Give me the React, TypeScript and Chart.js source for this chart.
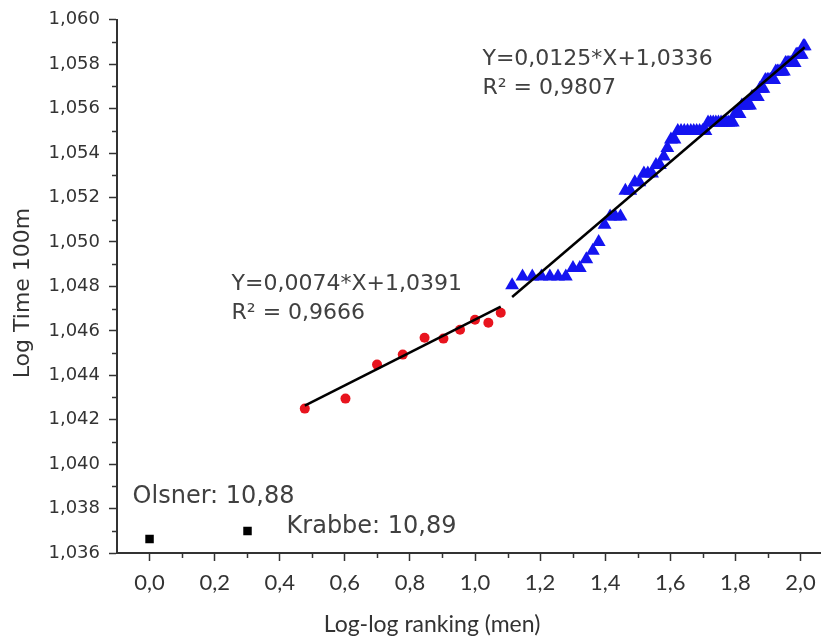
import React, { useEffect, useRef } from 'react';
import { Chart, registerables } from 'chart.js';

Chart.register(...registerables);

// ---- data ----
const TOP_X = [0.0, 0.301];
const TOP_Y = [1.03663, 1.03699];
const TOP_NAMES = ['Olsner: 10,88', 'Krabbe: 10,89'];

const RED_X = [0.477, 0.602, 0.699, 0.778, 0.845, 0.903, 0.954, 1.0, 1.041, 1.079];
const RED_Y = [1.0425, 1.04295, 1.04448, 1.04493, 1.04569, 1.04565, 1.04605, 1.0465, 1.04636, 1.04681];

const BLUE_X = [
  1.114, 1.146, 1.176, 1.204, 1.23, 1.255, 1.279, 1.301, 1.322, 1.342,
  1.362, 1.38, 1.398, 1.415, 1.431, 1.447, 1.462, 1.477, 1.491, 1.505,
  1.519, 1.531, 1.544, 1.556, 1.568, 1.58, 1.591, 1.602, 1.613, 1.623,
  1.633, 1.643, 1.653, 1.663, 1.672, 1.681, 1.69, 1.699, 1.708, 1.716,
  1.724, 1.732, 1.74, 1.748, 1.756, 1.763, 1.771, 1.778, 1.785, 1.792,
  1.799, 1.806, 1.813, 1.82, 1.826, 1.833, 1.839, 1.845, 1.851, 1.857,
  1.863, 1.869, 1.875, 1.881, 1.886, 1.892, 1.898, 1.903, 1.908, 1.914,
  1.919, 1.924, 1.929, 1.934, 1.94, 1.944, 1.949, 1.954, 1.959, 1.964,
  1.968, 1.973, 1.978, 1.982, 1.987, 1.991, 1.996, 2.0, 2.004, 2.009,
  2.013,
];
const BLUE_Y = [
  1.04805, 1.04844, 1.04844, 1.04844, 1.04844, 1.04844, 1.04844, 1.04883, 1.04883, 1.04922,
  1.04961, 1.05, 1.05077, 1.05115, 1.05115, 1.05115, 1.05231, 1.05231, 1.05269, 1.05269,
  1.05308, 1.05308, 1.05308, 1.05346, 1.05346, 1.05385, 1.05423, 1.05461, 1.05461, 1.055,
  1.055, 1.055, 1.055, 1.055, 1.055, 1.055, 1.055, 1.055, 1.055, 1.05538,
  1.05538, 1.05538, 1.05538, 1.05538, 1.05538, 1.05538, 1.05538, 1.05538, 1.05538, 1.05538,
  1.05576, 1.05576, 1.05576, 1.05614, 1.05614, 1.05614, 1.05614, 1.05614, 1.05652, 1.05652,
  1.05652, 1.05652, 1.0569, 1.0569, 1.0569, 1.05729, 1.05729, 1.05729, 1.05729, 1.05729,
  1.05729, 1.05767, 1.05767, 1.05767, 1.05767, 1.05767, 1.05767, 1.05805, 1.05805, 1.05805,
  1.05805, 1.05805, 1.05805, 1.05805, 1.05843, 1.05843, 1.05843, 1.05843, 1.05843, 1.05881,
  1.05881,
];

const RED_FIT = { slope: 0.0074, intercept: 1.0391, label: 'Y=0,0074*X+1,0391', r2: 'R² = 0,9666' };
const BLUE_FIT = { slope: 0.0125, intercept: 1.0336, label: 'Y=0,0125*X+1,0336', r2: 'R² = 0,9807' };

const X_TICKS = [0, 0.2, 0.4, 0.6, 0.8, 1.0, 1.2, 1.4, 1.6, 1.8, 2.0];
const X_TICK_LABELS = ['0,0', '0,2', '0,4', '0,6', '0,8', '1,0', '1,2', '1,4', '1,6', '1,8', '2,0'];
const X_MINOR = [0.1, 0.3, 0.5, 0.7, 0.9, 1.1, 1.3, 1.5, 1.7, 1.9];
const Y_TICKS = [1.036, 1.038, 1.04, 1.042, 1.044, 1.046, 1.048, 1.05, 1.052, 1.054, 1.056, 1.058, 1.06];
const Y_TICK_LABELS = ['1,036', '1,038', '1,040', '1,042', '1,044', '1,046', '1,048', '1,050', '1,052', '1,054', '1,056', '1,058', '1,060'];
const Y_MINOR = [1.037, 1.039, 1.041, 1.043, 1.045, 1.047, 1.049, 1.051, 1.053, 1.055, 1.057, 1.059];

const X_TITLE = 'Log-log ranking (men)';
const Y_TITLE = 'Log Time 100m';

// annotation placement (data coordinates) and style
const NOTES = [
  { text: RED_FIT.label, x: 0.252, y: 1.04811, size: 22 },
  { text: RED_FIT.r2, x: 0.252, y: 1.04681, size: 22 },
  { text: BLUE_FIT.label, x: 1.023, y: 1.05821, size: 22 },
  { text: BLUE_FIT.r2, x: 1.023, y: 1.0569, size: 22 },
  { text: TOP_NAMES[0], x: -0.052, y: 1.03851, size: 24 },
  { text: TOP_NAMES[1], x: 0.421, y: 1.03717, size: 24 },
];

const fitLine = (xs: number[], fit: { slope: number; intercept: number }) => {
  const lo = Math.min(...xs);
  const hi = Math.max(...xs);
  return [
    { x: lo, y: fit.slope * lo + fit.intercept },
    { x: hi, y: fit.slope * hi + fit.intercept },
  ];
};

const zip = (xs: number[], ys: number[]) => xs.map((x, i) => ({ x, y: ys[i] }));

const AXIS_COLOR = '#333333';

const extrasPlugin = {
  id: 'extras',
  afterDraw(chart: any) {
    const { ctx, chartArea } = chart;
    const xs = chart.scales.x;
    const ys = chart.scales.y;
    ctx.save();
    ctx.strokeStyle = AXIS_COLOR;
    ctx.lineWidth = 1.5;
    for (const v of X_MINOR) {
      const px = Math.round(xs.getPixelForValue(v)) + 0.5;
      ctx.beginPath();
      ctx.moveTo(px, chartArea.bottom);
      ctx.lineTo(px, chartArea.bottom + 5);
      ctx.stroke();
    }
    for (const v of Y_MINOR) {
      const py = Math.round(ys.getPixelForValue(v)) + 0.5;
      ctx.beginPath();
      ctx.moveTo(chartArea.left, py);
      ctx.lineTo(chartArea.left - 5, py);
      ctx.stroke();
    }
    ctx.fillStyle = '#404040';
    ctx.textAlign = 'left';
    ctx.textBaseline = 'middle';
    for (const n of NOTES) {
      ctx.font = `${n.size}px "DejaVu Sans"`;
      ctx.fillText(n.text, xs.getPixelForValue(n.x), ys.getPixelForValue(n.y));
    }
    // axis titles
    ctx.fillStyle = '#333333';
    ctx.textAlign = 'center';
    ctx.font = '23px Lato';
    ctx.fillText(X_TITLE, 432, 625);
    ctx.save();
    ctx.translate(23, 293);
    ctx.rotate(-Math.PI / 2);
    ctx.font = '22px "DejaVu Sans"';
    ctx.fillText(Y_TITLE, 0, 0);
    ctx.restore();
    ctx.restore();
  },
};

export default function App() {
  const ref = useRef<HTMLCanvasElement | null>(null);

  useEffect(() => {
    document.body.style.margin = '0';
    const canvas = ref.current;
    if (!canvas) return;
    const chart = new Chart(canvas, {
      type: 'scatter',
      data: {
        datasets: [
          {
            type: 'line',
            data: fitLine(RED_X, RED_FIT),
            borderColor: '#000000',
            borderWidth: 2.5,
            pointRadius: 0,
            order: 0,
          } as any,
          {
            type: 'line',
            data: fitLine(BLUE_X, BLUE_FIT),
            borderColor: '#000000',
            borderWidth: 2.5,
            pointRadius: 0,
            order: 0,
          } as any,
          {
            data: zip(BLUE_X, BLUE_Y),
            pointStyle: 'triangle',
            pointRadius: 8,
            backgroundColor: '#1414f0',
            borderColor: '#1414f0',
            borderWidth: 0,
            order: 1,
          },
          {
            data: zip(RED_X, RED_Y),
            pointStyle: 'circle',
            pointRadius: 5,
            backgroundColor: '#e8141e',
            borderColor: '#e8141e',
            borderWidth: 0,
            order: 1,
          },
          {
            data: zip(TOP_X, TOP_Y),
            pointStyle: 'rect',
            pointRadius: 6,
            backgroundColor: '#000000',
            borderColor: '#000000',
            borderWidth: 0,
            order: 1,
          },
        ],
      },
      options: {
        responsive: false,
        animation: false,
        layout: { padding: { top: 17, right: 6, left: 0, bottom: 0 } },
        plugins: { legend: { display: false }, tooltip: { enabled: false } },
        scales: {
          x: {
            type: 'linear',
            min: -0.1,
            max: 2.06,
            afterBuildTicks: (scale: any) => {
              scale.ticks = X_TICKS.map((v) => ({ value: v }));
            },
            afterFit: (scale: any) => {
              scale.height = 88;
            },
            border: { display: true, color: AXIS_COLOR, width: 2 },
            grid: { drawOnChartArea: false, drawTicks: true, tickLength: 8, tickColor: AXIS_COLOR, tickWidth: 1.5 },
            ticks: {
              autoSkip: false,
              maxRotation: 0,
              padding: 9,
              color: '#333333',
              font: { family: 'Lato', size: 22 },
              callback: (v: any) => {
                const i = X_TICKS.findIndex((t) => Math.abs(t - Number(v)) < 1e-9);
                return i >= 0 ? X_TICK_LABELS[i] : '';
              },
            },
            title: { display: false },
          },
          y: {
            type: 'linear',
            min: 1.036,
            max: 1.06,
            afterBuildTicks: (scale: any) => {
              scale.ticks = Y_TICKS.map((v) => ({ value: v }));
            },
            afterFit: (scale: any) => {
              scale.width = 117;
            },
            border: { display: true, color: AXIS_COLOR, width: 2 },
            grid: { drawOnChartArea: false, drawTicks: true, tickLength: 8, tickColor: AXIS_COLOR, tickWidth: 1.5 },
            ticks: {
              autoSkip: false,
              padding: 9,
              color: '#333333',
              font: { family: 'DejaVu Sans', size: 18 },
              callback: (v: any) => {
                const i = Y_TICKS.findIndex((t) => Math.abs(t - Number(v)) < 1e-9);
                return i >= 0 ? Y_TICK_LABELS[i] : '';
              },
            },
            title: { display: false },
          },
        },
      },
      plugins: [extrasPlugin],
    });
    return () => chart.destroy();
  }, []);

  return (
    <div style={{ width: 828, height: 641, background: '#ffffff' }}>
      <canvas ref={ref} width={828} height={641} style={{ display: 'block', width: 828, height: 641 }} />
    </div>
  );
}
